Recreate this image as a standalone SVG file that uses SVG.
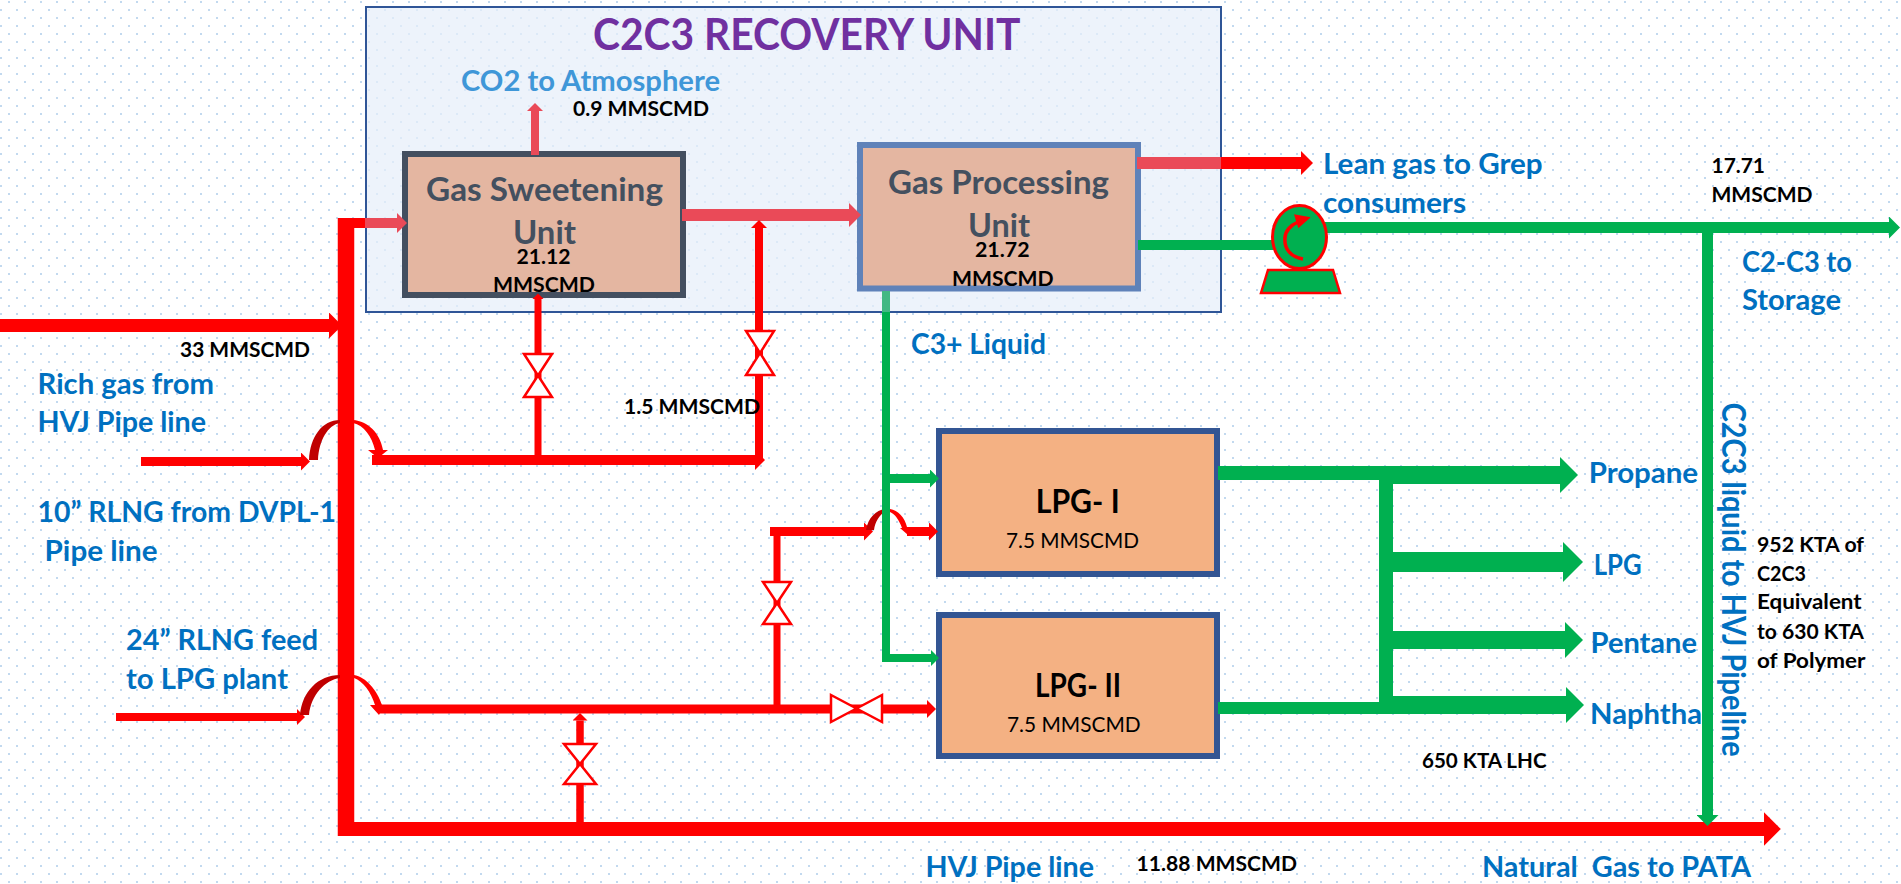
<svg xmlns="http://www.w3.org/2000/svg" width="1901" height="884" viewBox="0 0 1901 884">
<style>
text{font-family:"Lato","Liberation Sans",sans-serif;white-space:pre}
.blue{fill:#0070c0;font-size:28.500px;font-weight:700}
.lbl{fill:#000;font-size:21px;font-weight:700}
.unitname{fill:#44505f;font-size:33px;font-weight:700}
.lpg{fill:#000;font-size:32px;font-weight:700}
.cap{fill:#000;font-size:21px;font-weight:400}
.box{stroke-width:6}
.r,.p,.g,.pg{fill:none}
.r{stroke:#f00}.p{stroke:#ea4a58}.g{stroke:#00b050}.pg{stroke:#42b883}
.ar{marker-end:url(#hr)}.ap{marker-end:url(#hp)}.ag{marker-end:url(#hg)}.ab{marker-end:url(#hb)}.as{marker-end:url(#hs)}
.dk{fill:#c00000}.rf{fill:#f00}
.valve{fill:#fff;stroke:#f00;stroke-width:2.5}
</style>
<defs>
<pattern id="dots" width="16" height="16" patternUnits="userSpaceOnUse">
<rect x="8" y="1" width="2" height="2" fill="#c2d9ef"/><rect x="0" y="9" width="2" height="2" fill="#c2d9ef"/>
</pattern>
<marker id="hr" viewBox="0 0 1 2" refX="0" refY="1" markerWidth="1" markerHeight="2" orient="auto"><path d="M0 0L1 1L0 2Z" fill="#f00"/></marker>
<marker id="hb" viewBox="0 0 1 2" refX="0" refY="1" markerWidth="1.2" markerHeight="2.4" orient="auto"><path d="M0 0L1 1L0 2Z" fill="#f00"/></marker>
<marker id="hs" viewBox="0 0 1 2" refX="0" refY="1" markerWidth="0.9" markerHeight="1.6" orient="auto"><path d="M0 0L1 1L0 2Z" fill="#f00"/></marker>
<marker id="hp" viewBox="0 0 1 2" refX="0" refY="1" markerWidth="1" markerHeight="2" orient="auto"><path d="M0 0L1 1L0 2Z" fill="#ea4a58"/></marker>
<marker id="hg" viewBox="0 0 1 2" refX="0" refY="1" markerWidth="1" markerHeight="2" orient="auto"><path d="M0 0L1 1L0 2Z" fill="#00b050"/></marker>
</defs>
<rect width="1901" height="884" fill="#fff"/>
<rect width="1901" height="884" fill="url(#dots)"/>

<g id="c2c3-recovery-unit">
<rect x="366" y="7" width="855" height="305" fill="#e6effa" fill-opacity=".72" stroke="#2f5597" stroke-width="2"/>
<text x="593" y="49.5" fill="#7030a0" font-size="43" font-weight="700" textLength="427.500" lengthAdjust="spacingAndGlyphs">C2C3 RECOVERY UNIT</text>
</g>

<g id="gas-sweetening-unit">
<rect class="box" x="405" y="154" width="278" height="141" fill="#e4b6a1" stroke="#434f60"/>
<text class="unitname" x="426" y="201" textLength="237" lengthAdjust="spacingAndGlyphs">Gas Sweetening</text>
<text class="unitname" x="513" y="244" textLength="63" lengthAdjust="spacingAndGlyphs">Unit</text>
</g>
<g id="gas-processing-unit">
<rect class="box" x="860" y="145" width="278" height="143.500" fill="#e4b6a1" stroke="#5f82b9"/>
<text class="unitname" x="888" y="194" textLength="221" lengthAdjust="spacingAndGlyphs">Gas Processing</text>
<text class="unitname" x="968" y="236.700" textLength="62" lengthAdjust="spacingAndGlyphs">Unit</text>
</g>
<g id="lpg-1">
<rect class="box" x="939" y="431" width="278" height="143" fill="#f4b183" stroke="#335593"/>
<text class="lpg" x="1035.700" y="513" textLength="84" lengthAdjust="spacingAndGlyphs">LPG- I</text>
<text class="cap" x="1006" y="548" textLength="133" lengthAdjust="spacingAndGlyphs">7.5 MMSCMD</text>
</g>
<g id="lpg-2">
<rect class="box" x="939" y="615" width="278" height="141" fill="#f4b183" stroke="#335593"/>
<text class="lpg" x="1035" y="696.700" textLength="86" lengthAdjust="spacingAndGlyphs">LPG- II</text>
<text class="cap" x="1007" y="732" textLength="133.600" lengthAdjust="spacingAndGlyphs">7.5 MMSCMD</text>
</g>

<g id="connectors">
<!-- rich gas trunk -->
<path class="r ar" stroke-width="13" d="M0 325.500H329"/>
<path class="r" stroke-width="16.500" d="M346 218V836"/>
<path class="r" stroke-width="10" d="M338 223H366"/>
<path class="p ap" stroke-width="10" d="M365 223H397"/>
<path class="r ab" stroke-width="14" d="M338 829H1764"/>
<path class="p ap" stroke-width="8" d="M535 155V111"/>
<path class="p ap" stroke-width="12" d="M682 215H849"/>
<path class="p" stroke-width="12" d="M1137 163H1222"/>
<path class="r ar" stroke-width="12" d="M1221 163H1301"/>
<!-- 10 inch RLNG -->
<path class="r ar" stroke-width="9" d="M141 461.500H301"/>
<path class="dk" d="M309 460C310 437 322 420 340 420L340 423C328 425 319 440 318 460Z"/>
<path class="rf" d="M353 420C368 421 380 433 383 450L388 450L378 458L368 450L375 450C372 437 364 425 353 423Z"/>
<path class="r ar" stroke-width="10" d="M372 460H755"/>
<path class="r as" stroke-width="7" d="M538 459V299"/>
<path class="r ar" stroke-width="8" d="M759 460V228"/>
<!-- 24 inch RLNG -->
<path class="r ar" stroke-width="8" d="M116 717H297"/>
<path class="dk" d="M300 715C302 692 318 675 340 675L340 678C325 680 311 695 309 715Z"/>
<path class="rf" d="M354 675C366 677 377 690 382 705L384 705L379 715L370 705L375 705C371 692 363 681 354 678Z"/>
<path class="r ar" stroke-width="9" d="M379 709H927"/>
<path class="r" stroke-width="7" d="M777 705V527"/>
<path class="r ar" stroke-width="9" d="M770 531.500H864"/>
<path class="dk" d="M866 530C868 518 876 510 885 509L885 512C880 514 875 522 874 530Z"/>
<path class="rf" d="M890 509C898 510 905 518 907 527L908 535L900 528L902 528C899 520 895 514 890 512Z"/>
<path class="r ar" stroke-width="9" d="M907 531.500H929"/>
<path class="r ar" stroke-width="7.500" d="M580 822V720.500"/>
<!-- C2C3 -->
<path class="g" stroke-width="10" d="M1138 245H1274"/>
<path class="g ag" stroke-width="11" d="M1325 227.500H1889"/>
<path class="g ag" stroke-width="11" d="M1707.500 233V815"/>
<!-- C3+ liquid -->
<path class="pg" stroke-width="8" d="M886 291V312"/>
<path class="g" stroke-width="8" d="M886 312V662"/>
<path class="g ag" stroke-width="9" d="M886 478.500H930"/>
<path class="g ag" stroke-width="8" d="M886 658H931"/>
<!-- LPG products -->
<path class="g" stroke-width="14" d="M1218 473H1393"/>
<path class="g" stroke-width="12" d="M1218 708H1393"/>
<path class="g" stroke-width="14" d="M1386 466V714"/>
<path class="g ag" stroke-width="18" d="M1385 475H1560"/>
<path class="g ag" stroke-width="20" d="M1386 562H1563"/>
<path class="g ag" stroke-width="18" d="M1386 640H1565"/>
<path class="g ag" stroke-width="18" d="M1386 705H1566"/>
</g>

<g id="valve-1"><path class="valve" d="M746 331H774L746 375H774Z"/></g>
<g id="valve-2"><path class="valve" d="M524 354H552L524 397H552Z"/></g>
<g id="valve-3"><path class="valve" d="M763 582H791L763 624H791Z"/></g>
<g id="valve-4"><path class="valve" d="M564 744H596L564 784H596Z"/></g>
<g id="valve-5"><path class="valve" d="M831 695V722L882 695V722Z"/></g>

<g id="pump">
<path d="M1268 270H1333L1340 293H1261Z" fill="#00b050" stroke="#f00" stroke-width="2.500"/>
<ellipse cx="1299.500" cy="237" rx="27" ry="31.500" fill="#00b050" stroke="#f00" stroke-width="3"/>
<path d="M1303 259C1290 257 1284 248 1285 238C1285 231 1291 225 1298 222" fill="none" stroke="#f00" stroke-width="3.500"/>
<path d="M1294 214.300L1310.700 217.300L1298.300 228.300Z" fill="#f00"/>
</g>

<g id="labels">
<text x="461" y="90.700" fill="#3f97d8" font-size="28.500" font-weight="700" textLength="259" lengthAdjust="spacingAndGlyphs">CO2 to Atmosphere</text>
<text class="lbl" x="573" y="116" textLength="136" lengthAdjust="spacingAndGlyphs">0.9 MMSCMD</text>
<text class="lbl" x="516.500" y="264" textLength="54" lengthAdjust="spacingAndGlyphs">21.12</text>
<text class="lbl" x="493" y="291.700" textLength="102" lengthAdjust="spacingAndGlyphs">MMSCMD</text>
<text class="lbl" x="975" y="256.700" textLength="54.500" lengthAdjust="spacingAndGlyphs">21.72</text>
<text class="lbl" x="952" y="285.700" textLength="101.600" lengthAdjust="spacingAndGlyphs">MMSCMD</text>
<text class="blue" x="1323" y="174" textLength="219.600" lengthAdjust="spacingAndGlyphs">Lean gas to Grep</text>
<text class="blue" x="1323" y="212.700" textLength="143" lengthAdjust="spacingAndGlyphs">consumers</text>
<text class="lbl" x="1711.500" y="172.700" textLength="53.500" lengthAdjust="spacingAndGlyphs">17.71</text>
<text class="lbl" x="1711.500" y="201.700" textLength="101" lengthAdjust="spacingAndGlyphs">MMSCMD</text>
<text class="blue" x="1742" y="271.700" textLength="110" lengthAdjust="spacingAndGlyphs">C2-C3 to</text>
<text class="blue" x="1742" y="310" textLength="99" lengthAdjust="spacingAndGlyphs">Storage</text>
<text class="lbl" x="180" y="357" textLength="130" lengthAdjust="spacingAndGlyphs">33 MMSCMD</text>
<text class="blue" x="37.500" y="394" textLength="176.500" lengthAdjust="spacingAndGlyphs">Rich gas from</text>
<text class="blue" x="37.500" y="432" textLength="168.500" lengthAdjust="spacingAndGlyphs">HVJ Pipe line</text>
<text class="lbl" x="624" y="414" textLength="136" lengthAdjust="spacingAndGlyphs">1.5 MMSCMD</text>
<text class="blue" x="911" y="354" textLength="135" lengthAdjust="spacingAndGlyphs">C3+ Liquid</text>
<text class="blue" x="37.500" y="521.700" textLength="298.500" lengthAdjust="spacingAndGlyphs">10” RLNG from DVPL-1</text>
<text class="blue" x="44.600" y="560.700" textLength="113" lengthAdjust="spacingAndGlyphs">Pipe line</text>
<text class="blue" x="126" y="650" textLength="192" lengthAdjust="spacingAndGlyphs">24” RLNG feed</text>
<text class="blue" x="126" y="688.700" textLength="162" lengthAdjust="spacingAndGlyphs">to LPG plant</text>
<text class="blue" x="925.400" y="877" textLength="168.600" lengthAdjust="spacingAndGlyphs">HVJ Pipe line</text>
<text class="lbl" x="1136.600" y="870.700" textLength="160.400" lengthAdjust="spacingAndGlyphs">11.88 MMSCMD</text>
<text class="blue" x="1588.700" y="482.700" textLength="109.300" lengthAdjust="spacingAndGlyphs">Propane</text>
<text class="blue" x="1593.700" y="575" textLength="47.900" lengthAdjust="spacingAndGlyphs">LPG</text>
<text class="blue" x="1590.600" y="653" textLength="106.400" lengthAdjust="spacingAndGlyphs">Pentane</text>
<text class="blue" x="1590" y="724" textLength="112" lengthAdjust="spacingAndGlyphs">Naphtha</text>
<text class="lbl" x="1422" y="767.700" textLength="124.500" lengthAdjust="spacingAndGlyphs">650 KTA LHC</text>
<text class="blue" x="1482" y="876.700" textLength="269" lengthAdjust="spacingAndGlyphs">Natural  Gas to PATA</text>
<text class="lbl" x="1757" y="551.700" textLength="107" lengthAdjust="spacingAndGlyphs">952 KTA of</text>
<text class="lbl" x="1757" y="580.700" textLength="49" lengthAdjust="spacingAndGlyphs">C2C3</text>
<text class="lbl" x="1757" y="608.500" textLength="104.600" lengthAdjust="spacingAndGlyphs">Equivalent</text>
<text class="lbl" x="1757" y="639" textLength="107" lengthAdjust="spacingAndGlyphs">to 630 KTA</text>
<text class="lbl" x="1757" y="668" textLength="108.400" lengthAdjust="spacingAndGlyphs">of Polymer</text>
<text class="blue" transform="translate(1721.500 402.700) rotate(90)" style="font-size:32px" textLength="354" lengthAdjust="spacingAndGlyphs">C2C3 liquid to HVJ Pipeline</text>
</g>
</svg>
